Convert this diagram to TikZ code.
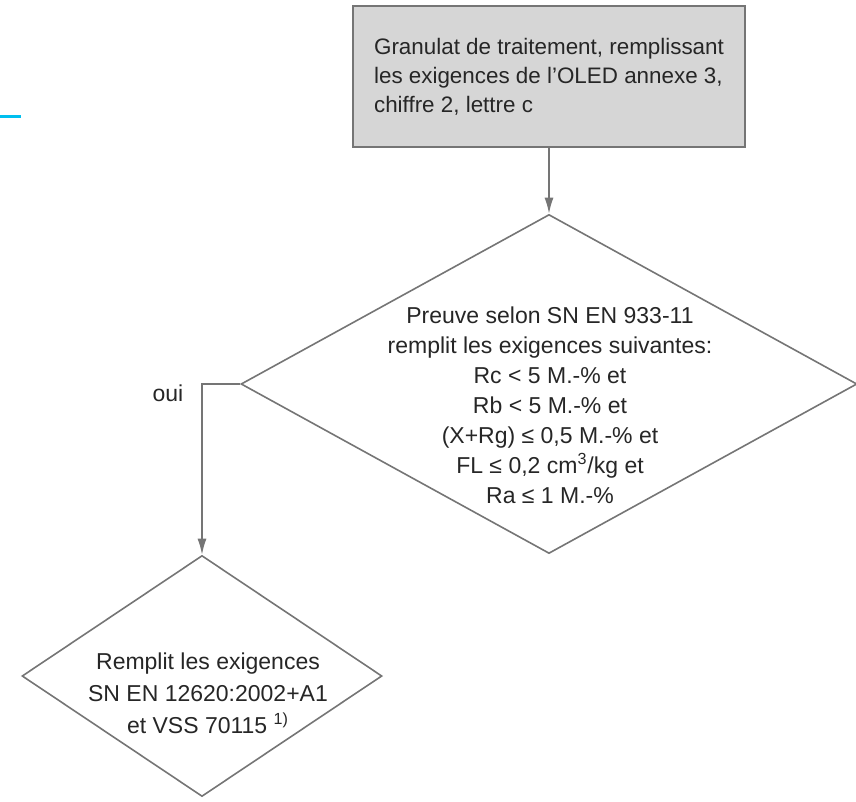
\documentclass[tikz,border=0pt]{standalone}
\usepackage{fontspec}
\setmainfont{Liberation Sans}
\usetikzlibrary{arrows.meta,shapes.geometric,positioning}
\definecolor{lineGray}{HTML}{757575}
\definecolor{boxGray}{HTML}{D6D6D6}
\definecolor{markBlue}{HTML}{00BFEF}
\tikzset{
  procbox/.style={draw=lineGray,fill=boxGray,line width=0.8pt,minimum width=196pt,
    minimum height=70.5pt,align=left},
  decision/.style={diamond,draw=lineGray,line width=0.8pt,inner sep=0pt},
  flowArrow/.style={-{Latex[length=8pt,width=4.5pt]},draw=lineGray,line width=0.8pt},
  txt/.style={font=\fontsize{11.5}{15}\selectfont,text=black!85}
}
\begin{document}
\begin{tikzpicture}[x=0.5pt,y=-0.5pt]
  \useasboundingbox (0,0) rectangle (856,802);
  \draw[markBlue,line width=1.5pt] (0,117) -- (21,117);
  % boxes
  \node[procbox,txt,font=\fontsize{11.2}{14.5}\selectfont] (granulat) at (549,76.5)
    {Granulat de traitement, remplissant\\les exigences de l'OLED annexe 3,\\chiffre 2, lettre c};
  \node[decision,minimum width=308pt,minimum height=169.5pt] (preuve) at (549,384) {};
  \node[txt,align=center] (preuveTxt) at (550,405)
    {Preuve selon SN EN 933-11\\remplit les exigences suivantes:\\Rc < 5 M.-\% et\\Rb < 5 M.-\% et\\
     (X+Rg) ≤ 0,5 M.-\% et\\FL ≤ 0,2 cm\textsuperscript{3}/kg et\\Ra ≤ 1 M.-\%};
  \node[decision,minimum width=180pt,minimum height=120.5pt] (remplit) at (202,676) {};
  \node[txt,align=center,font=\fontsize{11.5}{16}\selectfont] (remplitTxt) at (208,693)
    {Remplit les exigences\\SN EN 12620:2002+A1\\et VSS 70115 \textsuperscript{1)}};
  \node[txt,anchor=base] (oui) at (168,401) {oui};
  % connectors
  \draw[flowArrow] (granulat.south) -- (preuve.north);
  \draw[flowArrow] (preuve.west) -| (remplit.north);
\end{tikzpicture}
\end{document}
